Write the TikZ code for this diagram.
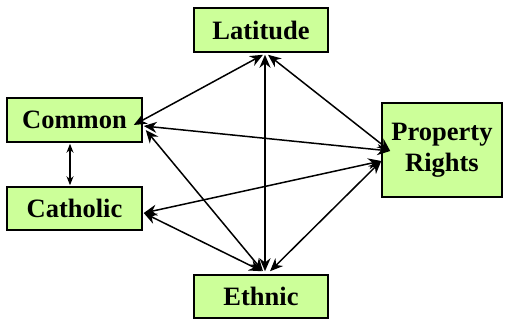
\documentclass[tikz,border=0pt]{standalone}
\usepackage{fontspec}
\setmainfont{Liberation Serif}
\usepackage{tikz}
\usetikzlibrary{arrows.meta,calc}

\definecolor{kastengruen}{RGB}{204,255,153}

\begin{document}
\begin{tikzpicture}[%
x={(1pt,0pt)},
y={(0pt,-1pt)},
kasten/.style={draw, line width=1.5pt, fill=kastengruen, inner sep=0pt,
  font=\fontsize{26.5}{31}\selectfont\bfseries, align=center},
pfeil/.style={line width=1.5pt, {Stealth[length=13pt,width=11pt]}-{Stealth[length=13pt,width=11pt]}},
kpfeil/.style={line width=1.3pt, {Stealth[length=9pt,width=7pt]}-{Stealth[length=9pt,width=7pt]}},
]
\useasboundingbox (0,0) rectangle (509,320);

%Kaesten
\node[kasten, minimum width=134pt, minimum height=44pt] (lat) at (261,30) {Latitude};
\node[kasten, minimum width=135pt, minimum height=44pt] (com) at (74.5,120) {Common};
\node[kasten, minimum width=135pt, minimum height=43pt] (cat) at (74.5,208.5) {Catholic};
\node[kasten, minimum width=120pt, minimum height=94pt] (pr) at (442,150) {Property\\Rights};
\node[kasten, minimum width=134pt, minimum height=43pt] (eth) at (261,296.5) {Ethnic};

%Pfeile
\draw[kpfeil] ($(com.south)+(-4.5,1)$) -- ($(cat.north)+(-4.5,-1)$);
\draw[pfeil] ($(lat.south)+(2,2)$) -- ($(com.east)+(-9,5)$);
\draw[pfeil] ($(lat.south)+(4,2)$) -- ($(eth.north)+(4,-3)$);
\draw[pfeil] ($(lat.south)+(7,2)$) -- ($(pr.west)+(9,1)$);
\draw[pfeil] ($(com.east)+(1,6)$) -- ($(pr.west)+(9,1)$);
\draw[pfeil] ($(com.east)+(3,10)$) -- ($(eth.north)+(2,-3)$);
\draw[pfeil] ($(cat.east)+(1,4.5)$) -- ($(pr.west)+(0,11)$);
\draw[pfeil] ($(cat.east)+(1,4.5)$) -- ($(eth.north)+(1,-3)$);
\draw[pfeil] ($(eth.north)+(9,-3)$) -- ($(pr.west)+(0,11)$);

\end{tikzpicture}
\end{document}
